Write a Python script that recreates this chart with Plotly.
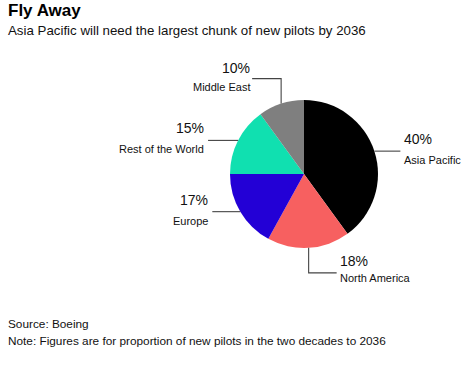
import math
import plotly.graph_objects as go

W, H = 475, 365

regions = ["Asia Pacific", "North America", "Europe", "Rest of the World", "Middle East"]
shares = [40, 18, 17, 15, 10]
colors = ["#000000", "#f76060", "#2300d6", "#10e0b0", "#7f7f7f"]

title = "<b>Fly Away</b>"
subtitle = "Asia Pacific will need the largest chunk of new pilots by 2036"
source = "Source: Boeing"
note = "Note: Figures are for proportion of new pilots in the two decades to 2036"

FONT = "Liberation Sans, Arial, sans-serif"

# pie geometry in pixels
cx, cy, r = 304, 174, 74


def px(x):
    return x / W


def py(y):
    return 1 - y / H


fig = go.Figure(go.Pie(
    labels=regions, values=shares, sort=False, direction="clockwise", rotation=0,
    marker=dict(colors=colors, line=dict(width=0)), textinfo="none",
    hoverinfo="label+percent", showlegend=False,
    domain=dict(x=[px(cx - r), px(cx + r)], y=[py(cy + r), py(cy - r)]),
))

layout_spec = {
    "Asia Pacific": ("right", 26),
    "North America": ("down", 25, 28),
    "Europe": ("left", 28),
    "Rest of the World": ("left", 30),
    "Middle East": ("up", 25, 29),
}

shapes = []
annotations = []
total = sum(shares)
cum = 0
line_style = dict(color="#444444", width=1.1)
for name, val in zip(regions, shares):
    mid = (cum + val / 2) / total * 2 * math.pi
    cum += val
    ax = cx + r * math.sin(mid)
    ay = cy - r * math.cos(mid)
    spec = layout_spec[name]
    pct = f"{round(val / total * 100)}%"
    if spec[0] in ("right", "left"):
        sgn = 1 if spec[0] == "right" else -1
        ex = ax + sgn * spec[1]
        ey = ay
        shapes.append(dict(type="line", xref="paper", yref="paper",
                           x0=px(ax), y0=py(ay), x1=px(ex), y1=py(ey), line=line_style))
        tx = ex + 2 * sgn
        anchor = "left" if sgn > 0 else "right"
        ty_pct, ty_lab = ey - 2, ey + 1
    else:
        sgn = -1 if spec[0] == "up" else 1
        ey = ay + sgn * spec[1]
        hs = 1 if spec[0] == "down" else -1
        ex = ax + hs * spec[2]
        shapes.append(dict(type="path", xref="paper", yref="paper",
                           path=f"M {px(ax)} {py(ay)} L {px(ax)} {py(ey)} L {px(ex)} {py(ey)}",
                           line=line_style))
        tx = ex + (1 if hs > 0 else 0)
        anchor = "left" if hs > 0 else "right"
        if spec[0] == "up":
            ty_pct, ty_lab = ey - 1, ey + 0
        else:
            ty_pct, ty_lab = ey - 2, ey - 3
    annotations.append(dict(x=px(tx), y=py(ty_pct), xref="paper", yref="paper",
                            text=pct, showarrow=False, xanchor=anchor, yanchor="bottom",
                            font=dict(family=FONT, size=14, color="#111111")))
    annotations.append(dict(x=px(tx), y=py(ty_lab), xref="paper", yref="paper",
                            text=name, showarrow=False, xanchor=anchor, yanchor="top",
                            font=dict(family=FONT, size=11, color="#111111")))

annotations += [
    dict(x=px(6), y=py(11), xref="paper", yref="paper", text=title, showarrow=False,
         xanchor="left", yanchor="middle", font=dict(family=FONT, size=17, color="#000000")),
    dict(x=px(6), y=py(30), xref="paper", yref="paper", text=subtitle, showarrow=False,
         xanchor="left", yanchor="middle", font=dict(family=FONT, size=13.3, color="#111111")),
    dict(x=px(6), y=py(324), xref="paper", yref="paper", text=source, showarrow=False,
         xanchor="left", yanchor="middle", font=dict(family=FONT, size=11.8, color="#111111")),
    dict(x=px(6), y=py(341), xref="paper", yref="paper", text=note, showarrow=False,
         xanchor="left", yanchor="middle", font=dict(family=FONT, size=11.8, color="#111111")),
]

fig.update_layout(width=W, height=H, margin=dict(l=0, r=0, t=0, b=0),
                  paper_bgcolor="white", plot_bgcolor="white",
                  shapes=shapes, annotations=annotations)

# remove the browser's default 8px body margin so the figure fills the window
fig.write_html("out.html", config={"displayModeBar": False},
               post_script="document.body.style.margin='0';")
